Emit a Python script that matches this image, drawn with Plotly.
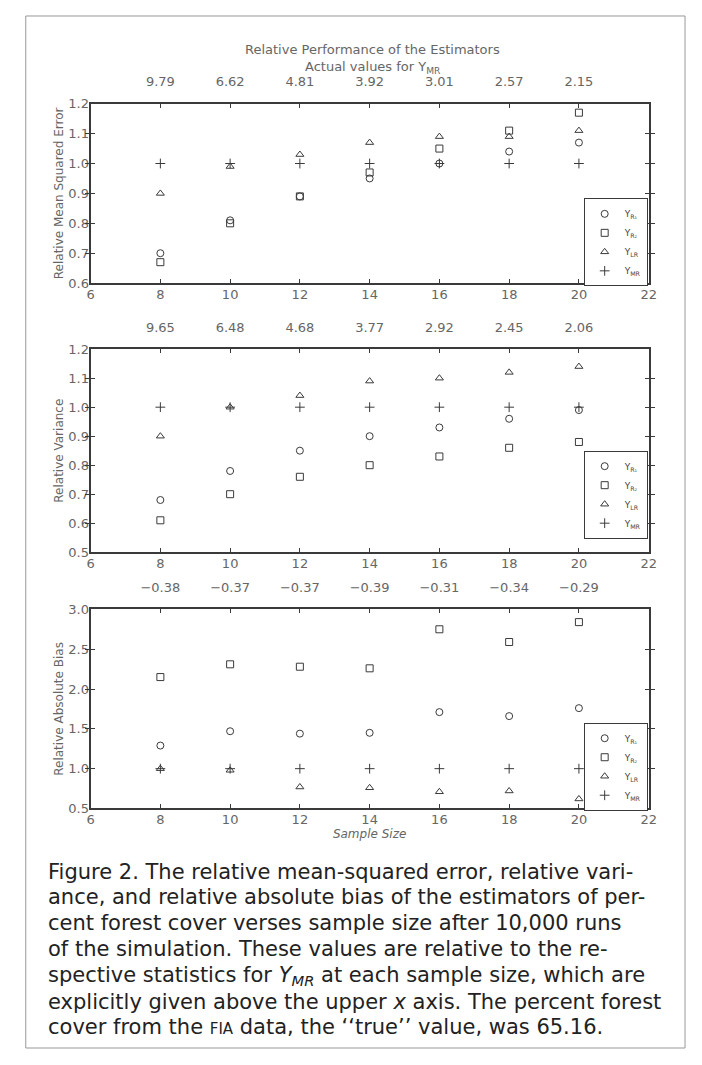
import plotly.graph_objects as go

sample_size = [8, 10, 12, 14, 16, 18, 20]
x_ticks = [6, 8, 10, 12, 14, 16, 18, 20, 22]

# Panel 1: relative mean squared error
mse_r1 = [0.70, 0.81, 0.89, 0.95, 1.00, 1.04, 1.07]
mse_r2 = [0.67, 0.80, 0.89, 0.97, 1.05, 1.11, 1.17]
mse_lr = [0.90, 0.99, 1.03, 1.07, 1.09, 1.09, 1.11]
mse_mr = [1.00, 1.00, 1.00, 1.00, 1.00, 1.00, 1.00]
mse_actual = ["9.79", "6.62", "4.81", "3.92", "3.01", "2.57", "2.15"]

# Panel 2: relative variance
var_r1 = [0.68, 0.78, 0.85, 0.90, 0.93, 0.96, 0.99]
var_r2 = [0.61, 0.70, 0.76, 0.80, 0.83, 0.86, 0.88]
var_lr = [0.90, 1.00, 1.04, 1.09, 1.10, 1.12, 1.14]
var_mr = [1.00, 1.00, 1.00, 1.00, 1.00, 1.00, 1.00]
var_actual = ["9.65", "6.48", "4.68", "3.77", "2.92", "2.45", "2.06"]

# Panel 3: relative absolute bias
bias_r1 = [1.29, 1.47, 1.44, 1.45, 1.71, 1.66, 1.76]
bias_r2 = [2.15, 2.31, 2.28, 2.26, 2.75, 2.59, 2.84]
bias_lr = [1.00, 0.98, 0.77, 0.76, 0.71, 0.72, 0.62]
bias_mr = [1.00, 1.00, 1.00, 1.00, 1.00, 1.00, 1.00]
bias_actual = ["\u22120.38", "\u22120.37", "\u22120.37", "\u22120.39", "\u22120.31", "\u22120.34", "\u22120.29"]

series_names = ["Y<sub>R\u2081</sub>", "Y<sub>R\u2082</sub>", "Y<sub>LR</sub>", "Y<sub>MR</sub>"]
symbols = ["circle-open", "square-open", "triangle-up-open", "cross-thin-open"]

# figure sits inside the page's default 8px body margin
OFF = 8
W, H = 702 - 2 * OFF, 1065 - 2 * OFF
INK = "#3a3a3a"
TXT = "#666666"
FONT = "DejaVu Sans"


def py(v):
    return 1 - (v - OFF) / H


def px(v):
    return (v - OFF) / W


x_dom = [px(88), px(656)]
panels = [
    dict(data=[mse_r1, mse_r2, mse_lr, mse_mr], actual=mse_actual, ydom=[py(280), py(98)],
         yr=[0.6, 1.2], dt=0.1, fmt=".1f", title="Relative Mean Squared Error", leg_top=194),
    dict(data=[var_r1, var_r2, var_lr, var_mr], actual=var_actual, ydom=[py(553), py(347)],
         yr=[0.5, 1.2], dt=0.1, fmt=".1f", title="Relative Variance", leg_top=450),
    dict(data=[bias_r1, bias_r2, bias_lr, bias_mr], actual=bias_actual, ydom=[py(813), py(611)],
         yr=[0.5, 3.0], dt=0.5, fmt=".1f", title="Relative Absolute Bias", leg_top=726),
]

fig = go.Figure()
layout = dict(width=W, height=H, autosize=False, margin=dict(l=0, r=0, t=0, b=0),
              paper_bgcolor="white", plot_bgcolor="white", showlegend=True,
              font=dict(family=FONT, size=12, color=TXT))

for i, p in enumerate(panels):
    k = i + 1
    xa = "x" if k == 1 else f"x{k}"
    ya = "y" if k == 1 else f"y{k}"
    leg = "legend" if k == 1 else f"legend{k}"
    for name, sym, vals in zip(series_names, symbols, p["data"]):
        fig.add_trace(go.Scatter(x=sample_size, y=vals, mode="markers", name=name,
                                 xaxis=xa, yaxis=ya, legend=leg,
                                 marker=dict(symbol=sym, size=7, color=INK,
                                             line=dict(width=1, color=INK))))
    xkey = "xaxis" if k == 1 else f"xaxis{k}"
    ykey = "yaxis" if k == 1 else f"yaxis{k}"
    layout[xkey] = dict(domain=x_dom, anchor=ya, range=[6, 22], tickvals=x_ticks,
                        showline=True, linewidth=2, linecolor=INK, mirror="allticks",
                        ticks="inside", ticklen=4, tickcolor=INK, showgrid=False,
                        zeroline=False, ticklabelstandoff=-2,
                        tickfont=dict(size=13, color=TXT))
    if k == 3:
        layout[xkey]["title"] = dict(text="<i>Sample Size</i>", standoff=0,
                                     font=dict(size=12, color=TXT))
    layout[ykey] = dict(domain=p["ydom"], anchor=xa, range=p["yr"], dtick=p["dt"],
                        tickformat=p["fmt"], showline=True, linewidth=2, linecolor=INK,
                        mirror="allticks", ticks="inside", ticklen=4, tickcolor=INK,
                        showgrid=False, zeroline=False, ticklabelstandoff=-3,
                        tickfont=dict(size=13, color=TXT),
                        title=dict(text=p["title"], standoff=2, font=dict(size=12, color=TXT)))
    # top axis with actual values for Y_MR
    tk = 3 + k
    layout[f"xaxis{tk}"] = dict(overlaying=xa, anchor=ya, side="top", range=[6, 22],
                                tickvals=sample_size, ticktext=p["actual"],
                                showline=False, ticks="", showgrid=False, zeroline=False,
                                ticklabelstandoff=14,
                                tickfont=dict(size=13, color=TXT))
    layout[leg] = dict(x=px(655), y=py(p["leg_top"]), xanchor="right", yanchor="top",
                       bordercolor=INK, borderwidth=1, bgcolor="white",
                       font=dict(size=9, color="#444444"), itemwidth=30,
                       tracegroupgap=0)

# invisible anchors so the top axes render
for k in range(1, 4):
    tk = 3 + k
    ya = "y" if k == 1 else f"y{k}"
    fig.add_trace(go.Scatter(x=[6], y=[panels[k - 1]["yr"][0]], xaxis=f"x{tk}", yaxis=ya,
                             mode="markers", marker=dict(opacity=0), showlegend=False,
                             hoverinfo="skip"))

fig.update_layout(**layout)

annotations = [
    dict(text="Relative Performance of the Estimators", x=px(375), y=py(43)),
    dict(text="Actual values for Y<sub>MR</sub>", x=px(375), y=py(61)),
]
for a in annotations:
    fig.add_annotation(xref="paper", yref="paper", x=a["x"], y=a["y"], text=a["text"],
                       showarrow=False, xanchor="center", yanchor="middle",
                       font=dict(family=FONT, size=13, color=TXT))

caption_lines = [
    "Figure 2. The relative mean-squared error, relative vari-",
    "ance, and relative absolute bias of the estimators of per-",
    "cent forest cover verses sample size after 10,000 runs",
    "of the simulation. These values are relative to the re-",
    "spective statistics for <i>Y<sub>MR</sub></i> at each sample size, which are",
    "explicitly given above the upper <i>x</i> axis. The percent forest",
    "cover from the <span style='font-size:15px'>FIA</span> data, the \u2018\u2018true\u2019\u2019 value, was 65.16.",
]
caption_y = [877, 903, 929, 956, 983, 1009, 1035]
for line, yy in zip(caption_lines, caption_y):
    fig.add_annotation(xref="paper", yref="paper", x=px(43), y=py(yy), text=line,
                       showarrow=False, xanchor="left", yanchor="middle",
                       font=dict(family="DejaVu Sans", size=21, color="#222222"))

# outer frame
fig.add_shape(type="rect", xref="paper", yref="paper", x0=px(22), x1=px(693),
              y0=py(1056), y1=py(9), line=dict(color="#999999", width=1))

fig.write_html("out.html", config={"displayModeBar": False})
